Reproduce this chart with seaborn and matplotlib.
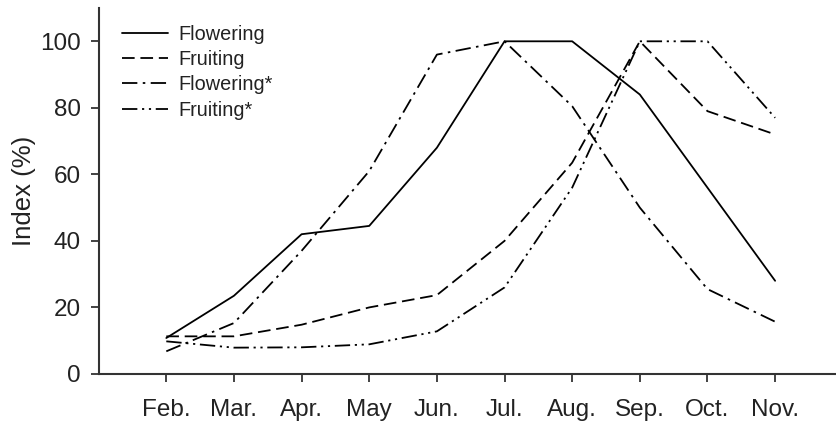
import matplotlib
matplotlib.use("Agg")
import matplotlib.pyplot as plt
import seaborn as sns
import pandas as pd

months = ["Feb.", "Mar.", "Apr.", "May", "Jun.", "Jul.", "Aug.", "Sep.", "Oct.", "Nov."]
flowering = [10.8, 23.5, 42, 44.5, 68, 100, 100, 84, 56, 28]
fruiting = [11.3, 11.3, 14.8, 20, 23.7, 40, 63.5, 100, 79, 72]
flowering_star = [6.8, 15.3, 37, 61, 96, 100, 80.5, 50, 25.5, 15.7]
fruiting_star = [9.8, 7.9, 8, 8.9, 12.8, 26, 56, 100, 100, 77]

series_names = ["Flowering", "Fruiting", "Flowering*", "Fruiting*"]
series_values = [flowering, fruiting, flowering_star, fruiting_star]

rows = []
for name, vals in zip(series_names, series_values):
    for i, v in enumerate(vals):
        rows.append({"pos": i, "month": months[i], "series": name, "value": v})
df = pd.DataFrame(rows)

sns.set_theme(style="ticks")
plt.rcParams["font.family"] = ["Liberation Sans", "DejaVu Sans"]

fig = plt.figure(figsize=(8.36, 4.23), dpi=100)
ax = fig.add_axes([0.118, 0.116, 0.882, 0.865])

dash_styles = {
    "Flowering": "",
    "Fruiting": (7, 3.2),
    "Flowering*": (8.5, 3, 1.4, 3),
    "Fruiting*": (8.5, 2.6, 1.2, 2.6, 1.2, 2.6),
}

sns.lineplot(data=df, x="pos", y="value", style="series", style_order=series_names,
             dashes=dash_styles, color="black", linewidth=1.3, ax=ax, legend=True)

handles, labels = ax.get_legend_handles_labels()
pairs = [(h, l) for h, l in zip(handles, labels) if l in series_names]
leg = ax.legend([p[0] for p in pairs], [p[1] for p in pairs], loc="upper left",
                frameon=False, fontsize=14.3, handlelength=2.3, labelspacing=0.32,
                bbox_to_anchor=(0.0, 1.02), handletextpad=0.5, borderaxespad=0.8)
for txt in leg.get_texts():
    txt.set_color("#222222")

ax.set_xlim(-1, 9.9)
ax.set_ylim(0, 110)
ax.set_xticks(range(len(months)))
ax.set_xticklabels(months)
ax.set_yticks([0, 20, 40, 60, 80, 100])
ax.set_xlabel("")
ax.set_ylabel("Index (%)", fontsize=18.5, color="#222222", labelpad=3)
ax.tick_params(axis="both", direction="out", length=6, width=1.2, labelsize=17.5,
               colors="#222222")
ax.tick_params(axis="y", pad=7)
ax.tick_params(axis="x", pad=12)
for side in ["left", "bottom"]:
    ax.spines[side].set_linewidth(1.5)
    ax.spines[side].set_color("#333333")
sns.despine(ax=ax)

fig.savefig("out.png", dpi=100)
